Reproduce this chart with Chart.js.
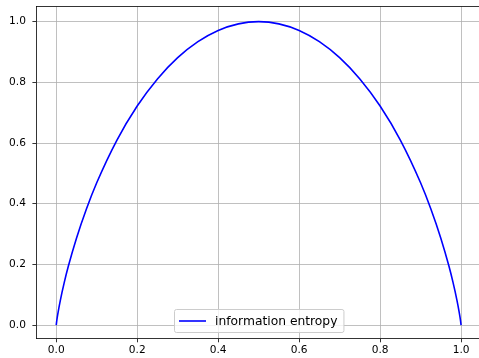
<!DOCTYPE html>
<html>
<head>
<meta charset="utf-8">
<script src="https://cdn.jsdelivr.net/npm/chart.js@4/dist/chart.umd.min.js"></script>
<style>
  html, body { margin: 0; padding: 0; background: #fff; }
  #wrap { width: 479px; height: 358px; overflow: hidden; position: relative; }
  #myChart { position: absolute; left: 0; top: 0; }
</style>
</head>
<body>
<div id="wrap"><canvas id="myChart" width="490" height="358"></canvas></div>
<script>
// probability p and the entropy
const probs = [0, 0.001, 0.0025, 0.005, 0.01, 0.02, 0.03, 0.05, 0.075, 0.1, 0.15, 0.2, 0.25, 0.3, 0.35, 0.4, 0.45, 0.5,
  0.55, 0.6, 0.65, 0.7, 0.75, 0.8, 0.85, 0.9, 0.925, 0.95, 0.97, 0.98, 0.99, 0.995, 0.9975, 0.999, 1]
const entropy = [0, 0.0114, 0.0252, 0.0454, 0.0808, 0.1414, 0.1944, 0.2864, 0.3843, 0.469, 0.6098, 0.7219, 0.8113, 0.8813, 0.9341, 0.971, 0.9928, 1.0,
  0.9928, 0.971, 0.9341, 0.8813, 0.8113, 0.7219, 0.6098, 0.469, 0.3843, 0.2864, 0.1944, 0.1414, 0.0808, 0.0454, 0.0252, 0.0114, 0]
const xTicks = [0, 0.2, 0.4, 0.6, 0.8, 1.0]
const yTicks = [0, 0.2, 0.4, 0.6, 0.8, 1.0]
const seriesName = 'information entropy'

const ctx = document.getElementById('myChart');
const font = {family: 'DejaVu Sans', size: 10.6}

// top spine + legend box like matplotlib
const extras = {
    id: 'extras',
    afterDraw(chart) {
        const c = chart.ctx
        const a = chart.chartArea
        c.save()
        c.strokeStyle = '#000'
        c.lineWidth = 0.8
        c.beginPath()
        c.moveTo(a.left, a.top)
        c.lineTo(a.right, a.top)
        c.lineTo(a.right, a.bottom)
        c.stroke()

        // legend
        const ds = chart.data.datasets[0]
        c.font = '12.3px "DejaVu Sans"'
        const tw = c.measureText(ds.label).width
        const w = 41 + tw + 6
        const h = 23
        const x0 = Math.round(chart.scales.x.getPixelForValue(0.5) - w / 2)
        const y0 = 309
        c.fillStyle = 'rgba(255,255,255,0.8)'
        c.strokeStyle = '#cccccc'
        c.lineWidth = 1
        c.beginPath()
        c.roundRect(x0 + 0.5, y0 + 0.5, w, h, 2)
        c.fill()
        c.stroke()
        c.strokeStyle = ds.borderColor
        c.lineWidth = ds.borderWidth
        c.beginPath()
        c.moveTo(x0 + 5, y0 + 12)
        c.lineTo(x0 + 32, y0 + 12)
        c.stroke()
        c.fillStyle = '#000'
        c.textBaseline = 'middle'
        c.fillText(ds.label, x0 + 41, y0 + 12.5)
        c.restore()
    }
}

new Chart(ctx, {
    type: 'line',
    data: {
        datasets: [{
            label: seriesName,
            data: probs.map((p, i) => ({x: p, y: entropy[i]})),
            borderColor: '#0000ff',
            borderWidth: 1.6,
            pointRadius: 0,
            cubicInterpolationMode: 'monotone',
            fill: false
        }]
    },
    options: {
        responsive: false,
        animation: false,
        layout: {padding: {top: 6.5, right: 8.7, left: 0, bottom: 0}},
        plugins: {legend: {display: false}, tooltip: {enabled: false}},
        scales: {
            x: {
                type: 'linear',
                min: -0.05,
                max: 1.05,
                afterBuildTicks: s => { s.ticks = xTicks.map(v => ({value: v})) },
                afterFit: s => { s.height = 19.3; s.paddingLeft = 0; s.paddingRight = 0 },
                ticks: {font: font, color: '#000', padding: 2, maxRotation: 0, callback: v => v.toFixed(1)},
                grid: {color: '#b0b0b0', lineWidth: 0.8, tickColor: '#000', tickLength: 3.6},
                border: {color: '#000', width: 0.8}
            },
            y: {
                type: 'linear',
                min: -0.045,
                max: 1.05,
                afterBuildTicks: s => { s.ticks = yTicks.map(v => ({value: v})) },
                afterFit: s => { s.width = 36; s.paddingTop = 0; s.paddingBottom = 0 },
                ticks: {font: font, color: '#000', padding: 6.5, callback: v => v.toFixed(1)},
                grid: {color: '#b0b0b0', lineWidth: 0.8, tickColor: '#000', tickLength: 3.6},
                border: {color: '#000', width: 0.8}
            }
        }
    },
    plugins: [extras]
});
</script>
</body>
</html>
